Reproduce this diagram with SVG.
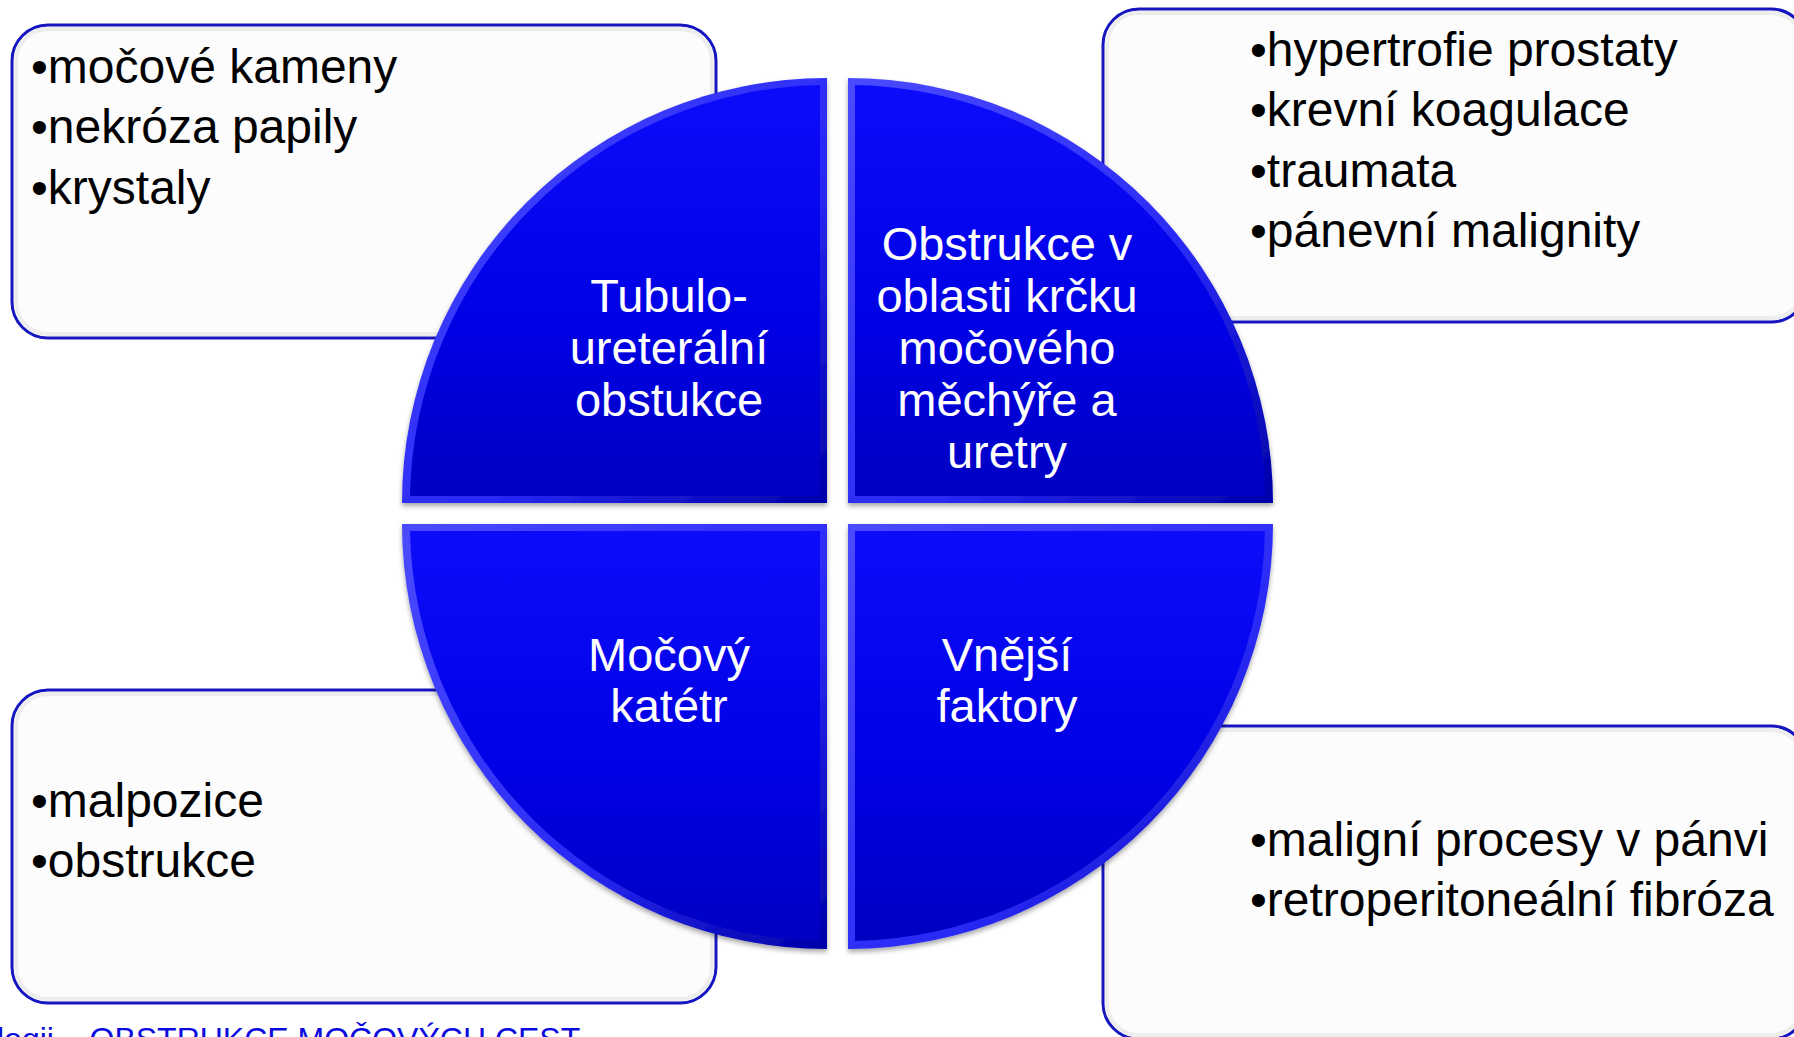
<svg xmlns="http://www.w3.org/2000/svg" width="1794" height="1037" viewBox="0 0 1794 1037">
<defs>
<linearGradient id="qfill" x1="0" y1="0" x2="0" y2="1">
<stop offset="0" stop-color="#0c0cfa"/>
<stop offset="0.6" stop-color="#0000e4"/>
<stop offset="1" stop-color="#0000c2"/>
</linearGradient>
<linearGradient id="qedge" x1="0" y1="0" x2="1" y2="1">
<stop offset="0" stop-color="#4a4aff"/>
<stop offset="0.6" stop-color="#2a2af6"/>
<stop offset="1" stop-color="#0000a8"/>
</linearGradient>
<filter id="sh" x="-10%" y="-10%" width="120%" height="120%">
<feDropShadow dx="0" dy="3" stdDeviation="2.5" flood-color="#000" flood-opacity="0.35"/>
</filter>
</defs>
<style>
.box{fill:#fcfcfc;stroke:#1616c0;stroke-width:3}
.inner{fill:none;stroke:#ededed;stroke-width:4}
.bul{font-family:"Liberation Sans",Arial,sans-serif;font-size:48px;fill:#000}
.q{font-family:"Liberation Sans",Arial,sans-serif;font-size:47px;fill:#fff;text-anchor:middle}
.qo{fill:url(#qedge);filter:url(#sh)}
.qi{fill:url(#qfill)}
.foot{font-family:"Liberation Sans",Arial,sans-serif;font-size:32px;fill:#0a0ae0}
</style>
<rect width="1794" height="1037" fill="#fff"/>
<g id="box-tl">
<rect class="box" x="12" y="25" width="704" height="313" rx="36"/>
<rect class="inner" x="16" y="29" width="696" height="305" rx="32"/>
<text class="bul" x="31" y="83">•močové kameny</text>
<text class="bul" x="31" y="143">•nekróza papily</text>
<text class="bul" x="31" y="204">•krystaly</text>
</g>
<g id="box-tr">
<rect class="box" x="1103" y="9" width="704" height="313" rx="36"/>
<rect class="inner" x="1107" y="13" width="696" height="305" rx="32"/>
<text class="bul" x="1250" y="66">•hypertrofie prostaty</text>
<text class="bul" x="1250" y="126">•krevní koagulace</text>
<text class="bul" x="1250" y="187">•traumata</text>
<text class="bul" x="1250" y="247">•pánevní malignity</text>
</g>
<g id="box-bl">
<rect class="box" x="12" y="690" width="704" height="313" rx="36"/>
<rect class="inner" x="16" y="694" width="696" height="305" rx="32"/>
<text class="bul" x="31" y="817">•malpozice</text>
<text class="bul" x="31" y="877">•obstrukce</text>
</g>
<g id="box-br">
<rect class="box" x="1103" y="726" width="704" height="313" rx="36"/>
<rect class="inner" x="1107" y="730" width="696" height="305" rx="32"/>
<text class="bul" x="1250" y="856">•maligní procesy v pánvi</text>
<text class="bul" x="1250" y="916">•retroperitoneální fibróza</text>
</g>
<g id="q-tl">
<path class="qo" d="M827,503 H402 A425,425 0 0 1 827,78 Z"/>
<path class="qi" d="M820,496 H410 A418,418 0 0 1 820,85 Z"/>
<text class="q" x="669" y="312">Tubulo-</text>
<text class="q" x="669" y="364">ureterální</text>
<text class="q" x="669" y="416">obstukce</text>
</g>
<g id="q-tr">
<path class="qo" d="M848,503 H1273 A425,425 0 0 0 848,78 Z"/>
<path class="qi" d="M855,496 H1265 A418,418 0 0 0 855,85 Z"/>
<text class="q" x="1007" y="260">Obstrukce v</text>
<text class="q" x="1007" y="312">oblasti krčku</text>
<text class="q" x="1007" y="364">močového</text>
<text class="q" x="1007" y="416">měchýře a</text>
<text class="q" x="1007" y="468">uretry</text>
</g>
<g id="q-bl">
<path class="qo" d="M827,524 H402 A425,425 0 0 0 827,949 Z"/>
<path class="qi" d="M820,531 H410 A418,418 0 0 0 820,941 Z"/>
<text class="q" x="669" y="671">Močový</text>
<text class="q" x="669" y="722">katétr</text>
</g>
<g id="q-br">
<path class="qo" d="M848,524 H1273 A425,425 0 0 1 848,949 Z"/>
<path class="qi" d="M855,531 H1265 A418,418 0 0 1 855,941 Z"/>
<text class="q" x="1007" y="671">Vnější</text>
<text class="q" x="1007" y="722">faktory</text>
</g>
<g id="connectors"/>
<text class="foot" x="-3" y="1050">logii – OBSTRUKCE MOČOVÝCH CEST</text>
</svg>
